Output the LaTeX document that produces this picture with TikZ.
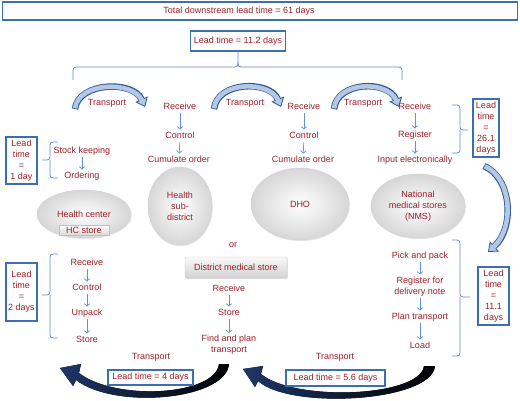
\documentclass[tikz,border=0pt]{standalone}
\usepackage{fontspec}
\setmainfont{Liberation Sans}
\usetikzlibrary{arrows.meta,shapes.geometric,shadows}
\definecolor{txt}{RGB}{155,30,40}
\definecolor{boxb}{RGB}{60,110,180}
\definecolor{brc}{RGB}{95,140,205}
\definecolor{sarr}{RGB}{95,145,215}
\definecolor{bdark}{RGB}{45,90,150}
\definecolor{blight}{RGB}{180,200,230}
\definecolor{navyc}{RGB}{30,55,105}
\newcommand\bluecurve[1]{\draw[bout] #1; \draw[bin] #1;}
\begin{document}
\begin{tikzpicture}[x=1pt,y=-1pt,
  every node/.style={font=\fontsize{9}{11}\selectfont, text=txt},
  lbl/.style={inner sep=1pt, text height=6.6pt, text depth=1.9pt},
  mlbl/.style={inner sep=1pt, align=center},
  ltbox/.style={draw=boxb, line width=1.1pt, fill=white, inner sep=1pt, align=center},
  ell/.style={ellipse, draw=gray!35, inner color=white, outer color=gray!32, inner sep=0pt, align=center,
     drop shadow={shadow xshift=0.8pt,shadow yshift=-1.2pt,opacity=0.2}},
  sa/.style={draw=sarr, line width=0.7pt, -{Straight Barb[length=2.5pt,width=5.5pt]}, shorten <=1pt, shorten >=1pt},
  brace/.style={draw=brc, line width=0.8pt, rounded corners=3pt},
  bout/.style={draw=bdark, line width=6.5pt, -{Triangle[width=13.5pt,length=8.5pt,line width=0.8pt,fill=blight]}},
  bin/.style={draw=blight, line width=4.6pt, shorten >=7pt, shorten <=0.8pt},
  darr/.style={left color=navyc, right color=black, draw=none}
]
\useasboundingbox (0,0) rectangle (520,400);

% top total box
\node[draw=boxb, line width=1.1pt, minimum width=515pt, minimum height=18pt, inner sep=0pt] (totalbox) at (260,11) {};
\node[lbl] (total) at (239,11) {Total downstream lead time = 61 days};

% lead time 11.2 and brace
\node[ltbox, minimum width=95pt, minimum height=20pt] (lt11) at (238,41) {Lead time = 11.2 days};
\draw[brace] (73,80) |- (238,67) -- (lt11.south);
\draw[brace] (402,80) |- (238,67) -- (238,62);

% top curved arrows
\bluecurve{(75,109) .. controls (78,82) and (133,80) .. (145,107)}
\bluecurve{(214,109) .. controls (217,81) and (270,80) .. (281,107)}
\bluecurve{(334,109) .. controls (337,81) and (388,80) .. (399,107)}
% right side curved arrow
\bluecurve{(484,166) .. controls (512,178) and (515,228) .. (488,252)}

\node[lbl] (tr1) at (107,103) {Transport};
\node[lbl] (tr2) at (245,103) {Transport};
\node[lbl] (tr3) at (363,103) {Transport};

% column A
\node[lbl] (recA) at (180,107) {Receive};
\node[lbl] (ctlA) at (180,136) {Control};
\node[lbl] (cumA) at (179,160) {Cumulate order};
\draw[sa] (recA) -- (ctlA);
\draw[sa] (ctlA) -- (cumA);
% column B
\node[lbl] (recB) at (304,107) {Receive};
\node[lbl] (ctlB) at (304,136) {Control};
\node[lbl] (cumB) at (303,160) {Cumulate order};
\draw[sa] (recB) -- (ctlB);
\draw[sa] (ctlB) -- (cumB);
% column C
\node[lbl] (recC) at (415,107) {Receive};
\node[lbl] (regC) at (415,135) {Register};
\node[lbl] (inpC) at (415,160) {Input electronically};
\draw[sa] (recC) -- (regC);
\draw[sa] (regC) -- (inpC);

% brace and box 26.1
\draw[brace] (452,105) -| (460,130) -- (468,130);
\draw[brace] (452,153) -| (460,130);
\node[ltbox, minimum width=26pt, minimum height=58pt] (lt26) at (486,128) {Lead\\time\\=\\26.1\\days};

% left top: stock keeping
\node[ltbox, minimum width=31pt, minimum height=47pt] (lt1) at (21.5,160.5) {Lead\\time\\=\\1 day};
\draw[brace] (58,142) -| (50,160) -- (42,160);
\draw[brace] (58,178) -| (50,160);
\node[lbl] (stock) at (82,151) {Stock keeping};
\node[lbl] (order) at (82,176) {Ordering};
\draw[sa] (stock) -- (order);

% ellipses
\node[ell, minimum width=94pt, minimum height=48pt] (hc) at (84,214) {Health center};
\node[draw=gray!50, top color=white, bottom color=gray!30, minimum width=50pt, minimum height=10pt, inner sep=0pt] (hcs) at (84,230) {HC store};
\node[ell, minimum width=64pt, minimum height=78pt] (hsd) at (180,206) {Health\\sub-\\district};
\node[ell, minimum width=98pt, minimum height=72pt] (dho) at (300,204) {DHO};
\node[ell, minimum width=94pt, minimum height=64pt] (nms) at (418,206) {National\\medical stores\\(NMS)};

\node[lbl] (or) at (233,245) {or};
\node[draw=gray!45, rounded corners=2pt, top color=gray!5, bottom color=gray!35, minimum width=102pt, minimum height=21pt, inner sep=0pt,
  drop shadow={shadow xshift=0.8pt,shadow yshift=-1.2pt,opacity=0.25}] (dms) at (236,267.5) {District medical store};

% left bottom
\node[ltbox, minimum width=31pt, minimum height=58pt] (lt2) at (21.5,292) {Lead\\time\\=\\2 days};
\draw[brace] (58,254) -| (50,295) -- (42,295);
\draw[brace] (58,338) -| (50,295);
\node[lbl] (rec2) at (87,263) {Receive};
\node[lbl] (ctl2) at (87,288) {Control};
\node[lbl] (unp2) at (87,313) {Unpack};
\node[lbl] (sto2) at (87,340) {Store};
\draw[sa] (rec2) -- (ctl2);
\draw[sa] (ctl2) -- (unp2);
\draw[sa] (unp2) -- (sto2);

% middle
\node[lbl] (rec3) at (229,289) {Receive};
\node[lbl] (sto3) at (229,313) {Store};
\node[mlbl] (find3) at (229,345) {Find and plan\\transport};
\draw[sa] (rec3) -- (sto3);
\draw[sa] (sto3) -- (find3);

% right
\node[lbl] (pick) at (420,256) {Pick and pack};
\node[mlbl] (regd) at (420,286.5) {Register for\\delivery note};
\node[lbl] (plan) at (420,317) {Plan transport};
\node[lbl] (load) at (420,346) {Load};
\draw[sa] (pick) -- (regd);
\draw[sa] (regd) -- (plan);
\draw[sa] (plan) -- (load);
\draw[brace] (452,240) -| (460,297) -- (470,297);
\draw[brace] (452,356) -| (460,297);
\node[ltbox, minimum width=31pt, minimum height=58pt] (lt111) at (493.5,296) {Lead\\time\\=\\11.1\\days};

% bottom dark arrows
\fill[darr] (229,364) .. controls (226,400) and (115,410) .. (76,380) -- (73,386) -- (60,368) -- (81,364) -- (79,373)
   .. controls (115,401) and (215,396) .. (219,364) -- cycle;
\fill[darr] (435,366) .. controls (432,402) and (290,410) .. (258,381) -- (255,387) -- (243,369) -- (263,366) -- (261,374)
   .. controls (295,402) and (420,397) .. (424,366) -- cycle;

\node[lbl] (tr4) at (151,357) {Transport};
\node[ltbox, minimum width=85pt, minimum height=15pt] (lt4) at (150.5,377.5) {Lead time = 4 days};
\node[lbl] (tr5) at (335,357) {Transport};
\node[ltbox, minimum width=99pt, minimum height=16pt] (lt56) at (335.5,378) {Lead time = 5.6 days};
\end{tikzpicture}
\end{document}
